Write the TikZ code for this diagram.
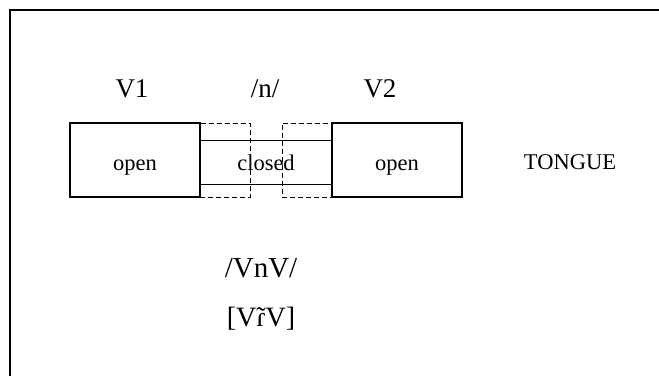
\documentclass[tikz,border=0pt]{standalone}
\usepackage{fontspec}
\setmainfont{Liberation Serif}
\usetikzlibrary{positioning}
\newcommand{\taptilde}{\ooalign{ɾ\cr\hidewidth\char"02DC\hidewidth\cr}}
\tikzset{
  seg/.style={draw, line width=1.1pt, minimum height=74pt, inner sep=0pt},
  gap/.style={draw, dash pattern=on 5pt off 3pt, line width=1pt, minimum width=50pt, minimum height=74pt, inner sep=0pt},
  big/.style={font=\fontsize{27}{30}\selectfont},
  small/.style={font=\fontsize{22.5}{25}\selectfont},
  tag/.style={small, anchor=base, inner sep=0pt},
}

\begin{document}
\begin{tikzpicture}[x=1pt, y=1pt]
\useasboundingbox (0,0) rectangle (659,376);
\draw[line width=2pt] (10,0) -- (10,366) -- (660,366);
% articulator states
\node[seg, minimum width=130pt] (openA) at (135,216) {};
\node[seg, minimum width=130pt] (openB) at (397,216) {};
\node[gap] (gapA) at (225,216) {};
\node[gap] (gapB) at (307,216) {};
\node[minimum width=132pt, minimum height=43pt, inner sep=0pt] (closed) at (266,213.5) {};
\draw[line width=1.1pt] (closed.north west) -- (closed.north east);
\draw[line width=1.1pt] (closed.south west) -- (closed.south east);
\node[tag] (openAtxt) at (135,206) {open};
\node[tag] (openBtxt) at (397,206) {open};
\node[tag] (closedtxt) at (266,206) {closed};
\node[tag] (tongue) at (570,207) {TONGUE};
% segments
\node[big, anchor=base, inner sep=0pt] (vA) at (132,279) {V1};
\node[big, anchor=base, inner sep=0pt] (nas) at (265,279) {/n/};
\node[big, anchor=base, inner sep=0pt] (vB) at (380,279) {V2};
\node[big, anchor=base, inner sep=0pt, font=\fontsize{29}{32}\selectfont] (phon) at (261,99) {/VnV/};
\node[big, anchor=base, inner sep=0pt, font=\fontsize{28}{31}\selectfont] (phonet) at (261,50) {[V\taptilde V]};
\end{tikzpicture}
\end{document}
